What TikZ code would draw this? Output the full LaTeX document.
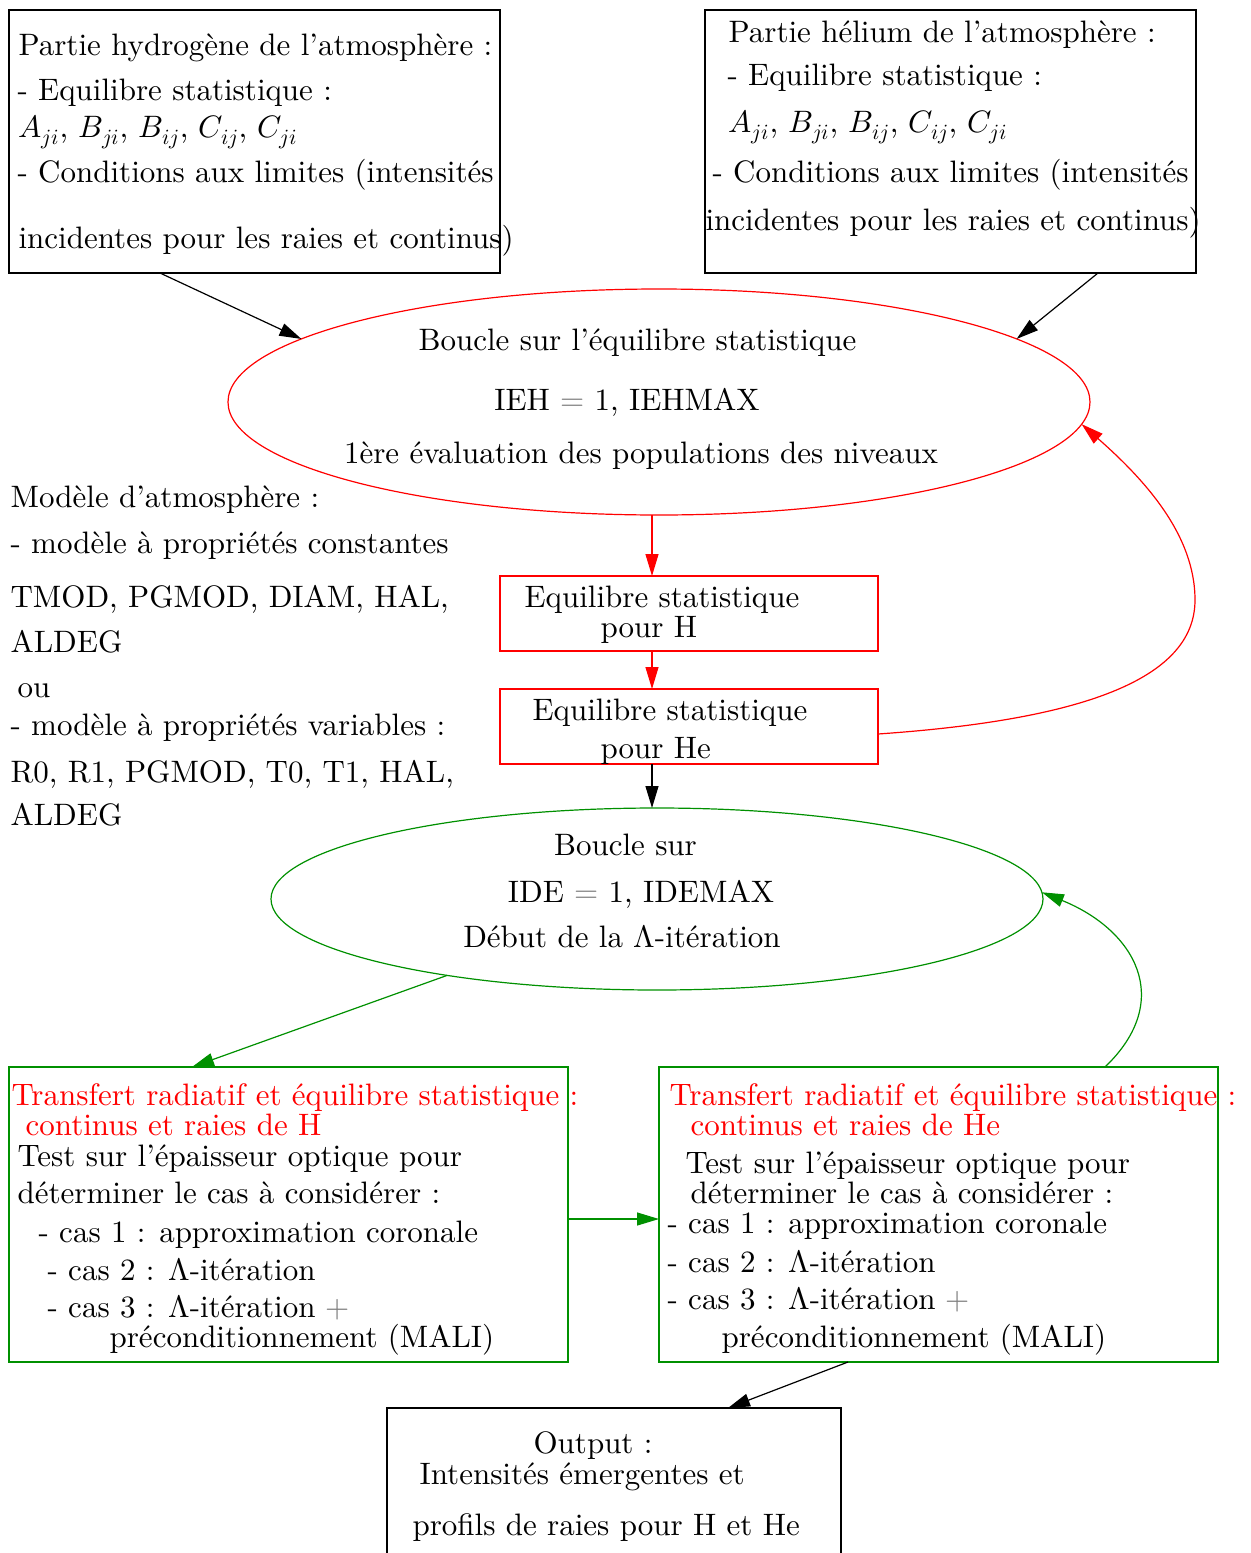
\documentclass[tikz,border=0pt]{standalone}
\usepackage{fontspec}
\usepackage{unicode-math}
\setmainfont{lmroman10-regular.otf}[ItalicFont=lmroman10-italic.otf,BoldFont=lmroman10-bold.otf]
\usetikzlibrary{shapes.geometric,arrows.meta}
\definecolor{fgreen}{RGB}{0,144,0}
\definecolor{fred}{RGB}{255,0,0}
\definecolor{fgray}{RGB}{128,128,128}
\begin{document}
\begin{tikzpicture}[x=0.5pt,y=-0.5pt,
  font=\fontsize{15.5}{18}\selectfont,
  line width=0.6pt,
  box/.style={draw,rectangle,inner sep=0pt,outer sep=0pt},
  oval/.style={draw,ellipse,inner sep=0pt,outer sep=0pt},
  txt/.style={inner sep=0pt,anchor=base west},
  ctxt/.style={inner sep=0pt,anchor=base},
  arr/.style={-{Triangle[length=11pt,width=6.5pt]}},
  ]
\useasboundingbox (0,0) rectangle (1251,1553);

% shapes
\node[box,minimum width=245.5pt,minimum height=131.5pt] (hbox) at (254.5,141.5) {};
\node[box,minimum width=245.5pt,minimum height=131.5pt] (hebox) at (950.5,141.5) {};
\node[oval,fred,minimum width=431pt,minimum height=113pt] (ell1) at (659,402) {};
\node[box,fred,minimum width=189pt,minimum height=37.5pt] (eqH) at (689,613.5) {};
\node[box,fred,minimum width=189pt,minimum height=37.5pt] (eqHe) at (689,726.5) {};
\node[oval,fgreen,minimum width=386pt,minimum height=91pt] (ell2) at (657,899) {};
\node[box,fgreen,minimum width=279.5pt,minimum height=147.5pt] (tl) at (288.5,1214.5) {};
\node[box,fgreen,minimum width=279.5pt,minimum height=147.5pt] (tr) at (938.5,1214.5) {};
\node[rectangle,inner sep=0pt,outer sep=0pt,minimum width=227pt,minimum height=72.5pt] (out) at (614,1480.5) {};
\draw (out.south west) |- (out.north east) -- (out.south east);

% hydrogen box text
\node[txt] (h1) at (18,55) {Partie hydrogène de l'atmosphère :};
\node[txt] (h2) at (17,100) {- Equilibre statistique :};
\node[txt] (h3) at (18,137) {$A_{ji}$, $B_{ji}$, $B_{ij}$, $C_{ij}$, $C_{ji}$};
\node[txt] (h4) at (17,182) {- Conditions aux limites (intensités};
\node[txt] (h5) at (18,248) {incidentes pour les raies et continus)};

% helium box text
\node[txt] (he1) at (728,42) {Partie hélium de l'atmosphère :};
\node[txt] (he2) at (727,85) {- Equilibre statistique :};
\node[txt] (he3) at (728,132) {$A_{ji}$, $B_{ji}$, $B_{ij}$, $C_{ij}$, $C_{ji}$};
\node[txt] (he4) at (712,182) {- Conditions aux limites (intensités};
\node[txt] (he5) at (705,230) {incidentes pour les raies et continus)};

% ellipse 1 text
\node[ctxt] (e1a) at (637.5,350) {Boucle sur l'équilibre statistique};
\node[ctxt] (e1b) at (627,410) {IEH {\color{fgray}$=$} 1, IEHMAX};
\node[ctxt] (e1c) at (641,463) {1ère évaluation des populations des niveaux};

% left model text
\node[txt] (m1) at (10,507) {Modèle d'atmosphère :};
\node[txt] (m2) at (10,553) {- modèle à propriétés constantes};
\node[txt] (m3) at (10,607) {TMOD, PGMOD, DIAM, HAL,};
\node[txt] (m4) at (10,652) {ALDEG};
\node[txt] (m5) at (17,697) {ou};
\node[txt] (m6) at (10,735) {- modèle à propriétés variables :};
\node[txt] (m7) at (10,782) {R0, R1, PGMOD, T0, T1, HAL,};
\node[txt] (m8) at (10,825) {ALDEG};

% equilibre boxes text
\node[txt] (q1) at (524,607) {Equilibre statistique};
\node[txt] (q2) at (600,637) {pour H};
\node[txt] (q3) at (532,720) {Equilibre statistique};
\node[txt] (q4) at (600,758) {pour He};

% ellipse 2 text
\node[ctxt] (e2a) at (625.5,855) {Boucle sur};
\node[ctxt] (e2b) at (641,902) {IDE {\color{fgray}$=$} 1, IDEMAX};
\node[ctxt] (e2c) at (622,947) {Début de la $\Lambda$-itération};

% left green box text
\node[txt,fred] (l1) at (11,1105) {Transfert radiatif et équilibre statistique :};
\node[txt,fred] (l2) at (25,1135) {continus et raies de H};
\node[txt] (l3) at (17,1166) {Test sur l'épaisseur optique pour};
\node[txt] (l4) at (17,1203) {déterminer le cas à considérer :};
\node[txt] (l5) at (38,1242) {- cas 1 : approximation coronale};
\node[txt] (l6) at (47,1280) {- cas 2 : $\Lambda$-itération};
\node[txt] (l7) at (47,1317) {- cas 3 : $\Lambda$-itération {\color{fgray}$+$}};
\node[txt] (l8) at (109,1347) {préconditionnement (MALI)};

% right green box text
\node[txt,fred] (r1) at (669,1105) {Transfert radiatif et équilibre statistique :};
\node[txt,fred] (r2) at (690,1135) {continus et raies de He};
\node[txt] (r3) at (685,1173) {Test sur l'épaisseur optique pour};
\node[txt] (r4) at (690,1203) {déterminer le cas à considérer :};
\node[txt] (r5) at (667,1233) {- cas 1 : approximation coronale};
\node[txt] (r6) at (667,1272) {- cas 2 : $\Lambda$-itération};
\node[txt] (r7) at (667,1309) {- cas 3 : $\Lambda$-itération {\color{fgray}$+$}};
\node[txt] (r8) at (721,1347) {préconditionnement (MALI)};

% output text
\node[txt] (o1) at (533,1453) {Output :};
\node[txt] (o2) at (419,1484) {Intensités émergentes et};
\node[txt] (o3) at (412,1535) {profils de raies pour H et He};

% connectors
\draw[arr] ([xshift=-47.25pt]hbox.south) -- (ell1.170);
\draw[arr] ([xshift=73.75pt]hebox.south) -- (ell1.10);
\draw[arr,fred] ([xshift=-3.5pt]ell1.south) -- ([xshift=-18.5pt]eqH.north);
\draw[arr,fred] ([xshift=-18.5pt]eqH.south) -- ([xshift=-18.5pt]eqHe.north);
\draw[arr] ([xshift=-18.5pt]eqHe.south) -- ([xshift=-2.5pt]ell2.north);
\coordinate (rc) at (1195,600);
\draw[arr,fred] ([yshift=-3.75pt]eqHe.east) .. controls (1080,720) and (1195,680) .. (rc)
   .. controls (1195,535) and (1145,480) .. (ell1.-3.2);
\draw[arr,fgreen] (ell2.200.5) -- ([xshift=91.5pt]tl.north west);
\draw[arr,fgreen] ([yshift=-2.25pt]tl.east) -- ([yshift=-2.25pt]tr.west);
\draw[arr,fgreen] ([xshift=223pt]tr.north west) .. controls (1175,1000) and (1135,930) .. (ell2.1);
\draw[arr] ([xshift=-45.25pt]tr.south) -- ([xshift=57pt]out.north);
\end{tikzpicture}
\end{document}
